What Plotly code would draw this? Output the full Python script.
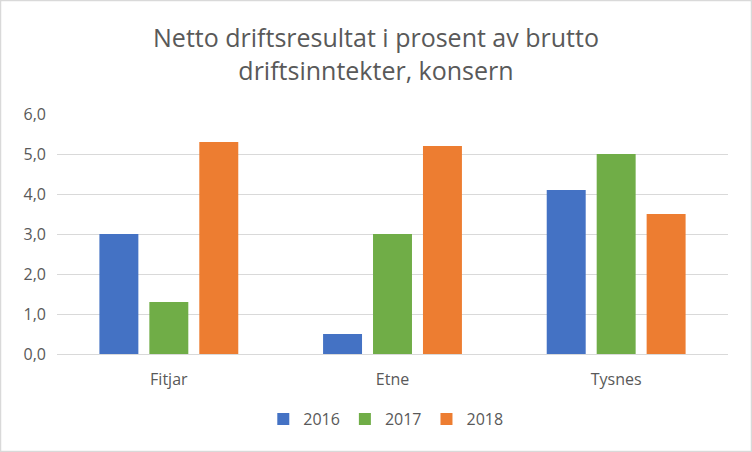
import plotly.graph_objects as go

categories = ["Fitjar", "Etne", "Tysnes"]
years = ["2016", "2017", "2018"]
v2016 = [3.0, 0.5, 4.1]
v2017 = [1.3, 3.0, 5.0]
v2018 = [5.3, 5.2, 3.5]
colors = ["#4472C4", "#70AD47", "#ED7D31"]

fig = go.Figure()
for name, vals, c in zip(years, [v2016, v2017, v2018], colors):
    fig.add_trace(go.Bar(name=name, x=categories, y=vals, marker=dict(color=c, line=dict(width=0))))

font_family = "'Open Sans', 'Noto Sans', sans-serif"
fig.update_layout(
    width=752, height=452,
    barmode="group", bargap=0.33, bargroupgap=0.22,
    paper_bgcolor="white", plot_bgcolor="white",
    margin=dict(l=57, r=24, t=114, b=98),
    separators=",.",
    title=dict(text="Netto driftsresultat i prosent av brutto<br>driftsinntekter, konsern",
               x=0.5, xanchor="center", xref="container", yref="container", y=1 - 47 / 452, yanchor="middle",
               font=dict(family=font_family, size=25, color="#595959")),
    font=dict(family=font_family, size=16, color="#595959"),
    legend=dict(orientation="h", x=0.49, xanchor="center", y=-0.2, yanchor="top",
                font=dict(size=16, color="#595959"), traceorder="normal"),
    yaxis=dict(range=[0, 6], dtick=1, tickformat=".1f", showgrid=True, gridcolor="#D9D9D9",
               gridwidth=1, zeroline=False, showline=False, ticks="", ticklabelstandoff=10,
               tickfont=dict(size=16, color="#595959")),
    xaxis=dict(showline=True, linecolor="#D9D9D9", linewidth=1, ticks="", ticklabelstandoff=11,
               tickfont=dict(size=16, color="#595959")),
    shapes=[dict(type="rect", xref="paper", yref="paper", x0=-56.5 / 671, x1=1 + 23.5 / 671,
                 y0=-97.5 / 240, y1=1 + 113.5 / 240, line=dict(color="#D9D9D9", width=1.5))],
)
fig.write_html("out.html", config={"displayModeBar": False},
               post_script="document.body.style.margin='0';document.body.style.overflow='hidden';")
